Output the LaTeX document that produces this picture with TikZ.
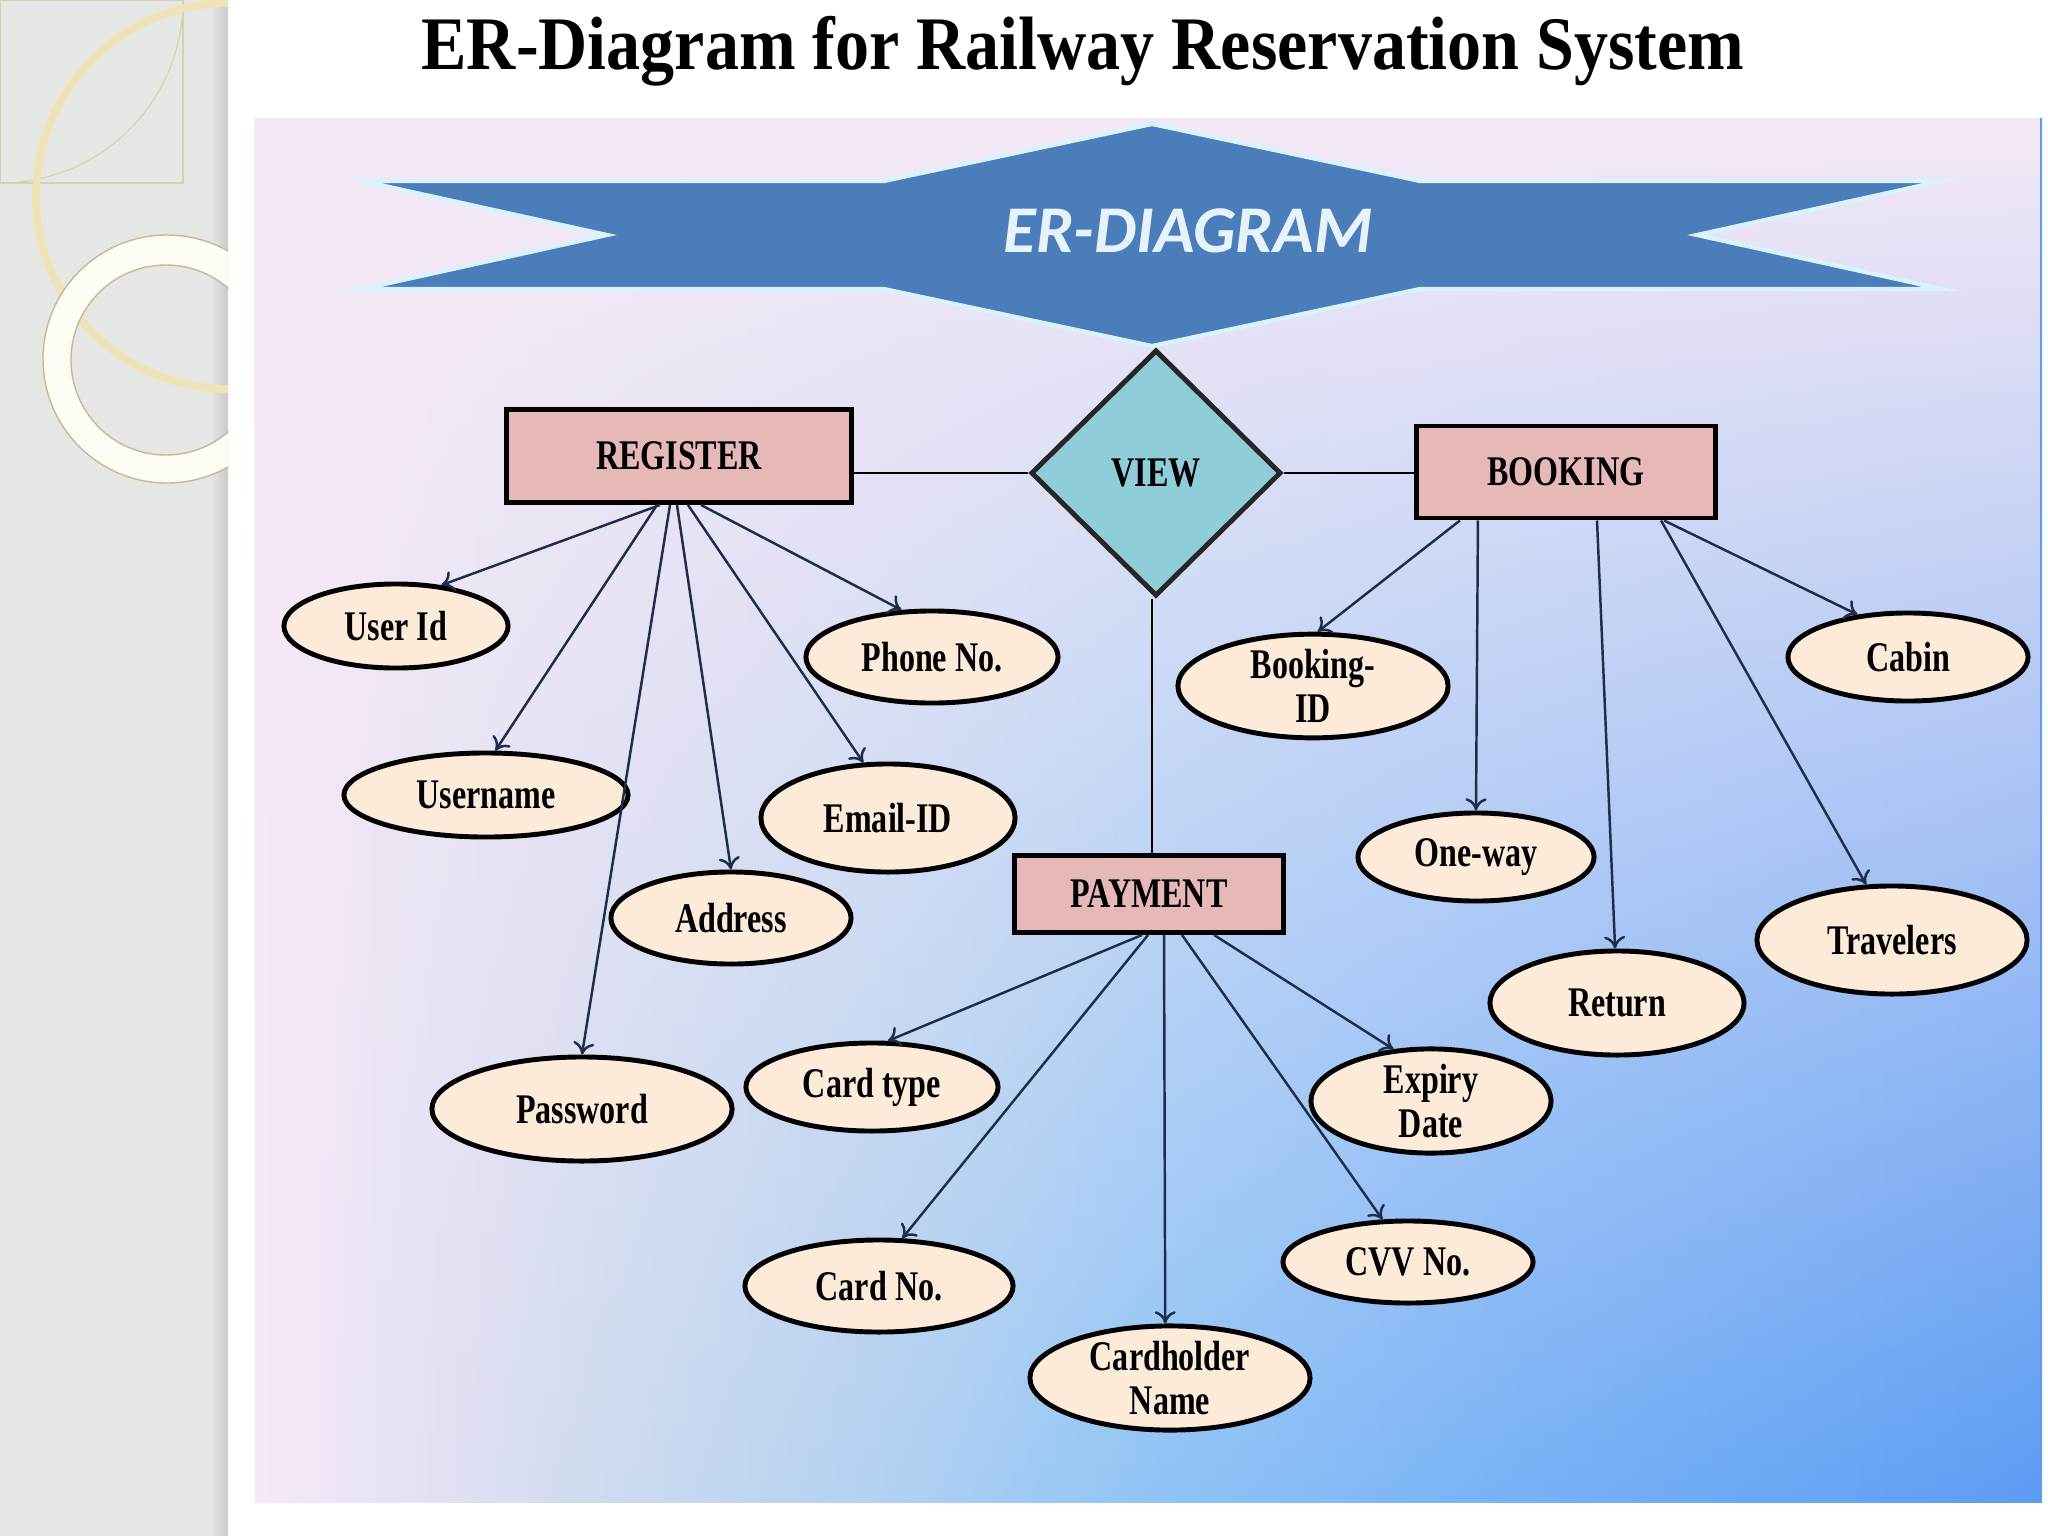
\documentclass[tikz,border=0pt]{standalone}
\usepackage{fontspec}
\setmainfont{Liberation Serif}
\newfontfamily\erfont[FakeStretch=0.76]{Liberation Serif}
\newfontfamily\titlefont[FakeStretch=0.9]{Liberation Serif}
\newfontfamily\bannerfont{Carlito}
\usepackage{xcolor}
\usepackage{tikz}
\usetikzlibrary{fadings}
\usetikzlibrary{shapes.geometric, arrows.meta, positioning}

\definecolor{sidegray}{HTML}{E4E7E4}
\definecolor{ringcream}{HTML}{EEE3B8}
\definecolor{ringwhite}{HTML}{FCFBF4}
\definecolor{ringtan}{HTML}{C8B98E}
\definecolor{panelA}{HTML}{F7E8F8}
\definecolor{panelB}{HTML}{D5DDEF}
\definecolor{panelC}{HTML}{B0D0F1}
\definecolor{panelD}{HTML}{90C4F5}
\definecolor{panelE}{HTML}{78B2F6}
\definecolor{panelF}{HTML}{5C9CF3}
\definecolor{panellav}{HTML}{F5E9F6}
\definecolor{bannerblue}{HTML}{4A7DBA}
\definecolor{bannertext}{HTML}{E6F3FA}
\definecolor{entitypink}{HTML}{E6B9B8}
\definecolor{viewteal}{HTML}{8FCDD9}
\definecolor{attribcream}{HTML}{FCEBD9}
\definecolor{linknavy}{HTML}{1C2E4A}

\pgfdeclarehorizontalshading{panelshade}{100bp}{color(0bp)=(panelA); color(25bp)=(panelA); color(33bp)=(panelB); color(43bp)=(panelC); color(50bp)=(panelD); color(60bp)=(panelE); color(75bp)=(panelF); color(100bp)=(panelF)}
\tikzfading[name=fade top, top color=transparent!0, middle color=transparent!72, bottom color=transparent!100]

\begin{document}
\begin{tikzpicture}[x=0.01cm, y=-0.01cm,
		entity/.style={rectangle, draw=black, line width=1.4pt, fill=entitypink, inner sep=0pt, font=\erfont\bfseries\fontsize{12}{12.5}\selectfont},
		relation/.style={diamond, draw=black!85, line width=1.4pt, fill=viewteal, inner sep=0pt, font=\erfont\bfseries\fontsize{12}{12.5}\selectfont},
		attrib/.style={ellipse, draw=black, line width=1.4pt, fill=attribcream, inner sep=0pt, align=center, font=\erfont\bfseries\fontsize{12}{12.5}\selectfont},
		link/.style={draw=black, line width=0.8pt},
		attrlink/.style={draw=linknavy, line width=0.7pt, -{To[length=3.5pt,width=6pt]}}]
				\useasboundingbox (0,0) rectangle (2048,1536);
				\fill [white] (0,0) rectangle (2048,1536);
				
				% side bar with the rings
				\fill [sidegray] (0,0) rectangle (228,1536);
				\shade [left color=sidegray, right color=sidegray!88!black] (210,0) rectangle (228,1536);
				\begin{scope}
					\clip (0,0) rectangle (228,1536);
					\draw [ringtan!70, line width=0.3pt] (0,0) rectangle (183,183);
					\draw [ringtan!70, line width=0.3pt] (183,0) to [out=-90,in=0] (0,183);
					\draw [ringcream, line width=2.2pt] (229,196) circle (193);
					\filldraw [fill=ringwhite, draw=ringtan, line width=0.4pt, even odd rule] (167,359) circle (124) (166,360) circle (95);
				\end{scope}
				
				% background panel
				\shade [shading=panelshade] (255,118) rectangle (2042,1502);
				\fill [panellav, path fading=fade top] (255,118) rectangle (2042,1502);
				
				\node [font=\titlefont\bfseries\fontsize{21.5}{24}\selectfont] (title) at (1083,51) {ER-Diagram for Railway Reservation System};
				
				% banner
				\filldraw [fill=bannerblue, draw=white!85!cyan, line width=1.2pt] (362,181) -- (884,181) -- (1152,124) -- (1420,181) -- (1942,181) -- (1697,235) -- (1942,289) -- (1420,289) -- (1152,346) -- (884,289) -- (362,289) -- (607,235) -- cycle;
				\node [font=\bannerfont\bfseries\itshape\fontsize{19}{22}\selectfont, text=bannertext] (banner) at (1188,231) {ER-DIAGRAM};
				
				% % % % % % % % % % % % % % % % % % % % % % % % % %
				
				\node [entity, minimum width=3.45cm, minimum height=0.93cm] (reg) at (679,456) {REGISTER};
				\node [relation, minimum width=2.5cm, minimum height=2.46cm] (view) at (1156,473) {VIEW};
				\node [entity, minimum width=2.98cm, minimum height=0.92cm] (book) at (1566,472) {BOOKING};
				\node [entity, minimum width=2.69cm, minimum height=0.77cm] (pay) at (1149,894) {PAYMENT};
				
				\draw [link] (view.west) -- (view.west -| reg.east);
				\draw [link] (view.east) -- (view.east -| book.west);
				\draw [link] ([xshift=-0.04cm]view.south) -- ([xshift=-0.04cm]view.south |- pay.north);
				
				% register attributes
				\node [attrib, minimum width=2.24cm, minimum height=0.84cm] (uid) at (396,626) {User Id};
				\node [attrib, minimum width=2.84cm, minimum height=0.84cm] (uname) at (486,795) {Username};
				\node [attrib, minimum width=2.40cm, minimum height=0.92cm] (addr) at (731,918) {Address};
				\node [attrib, minimum width=3.00cm, minimum height=1.04cm] (pwd) at (582,1109) {Password};
				\node [attrib, minimum width=2.52cm, minimum height=0.92cm] (phone) at (932,657) {Phone No.};
				\node [attrib, minimum width=2.54cm, minimum height=1.08cm] (email) at (888,818) {Email-ID};
				
				\draw [attrlink] ([xshift=-0.19cm]reg.south) -- (uid.42);
				\draw [attrlink] ([xshift=-0.22cm]reg.south) -- (uname.78);
				\draw [attrlink] ([xshift=-0.09cm]reg.south) -- (pwd.north);
				\draw [attrlink] ([xshift=-0.02cm]reg.south) -- (addr.north);
				\draw [attrlink] ([xshift=0.09cm]reg.south) -- (email.114);
				\draw [attrlink] ([xshift=0.22cm]reg.south) -- (phone.123);
				
				% booking attributes
				\node [attrib, minimum width=2.70cm, minimum height=0.84cm] (bid) at (1313,686) {Booking-\\ID};
				\node [attrib, minimum width=2.36cm, minimum height=0.88cm] (oneway) at (1476,857) {One-way};
				\node [attrib, minimum width=2.54cm, minimum height=1.04cm] (ret) at (1617,1003) {Return};
				\node [attrib, minimum width=2.40cm, minimum height=0.88cm] (cabin) at (1908,657) {Cabin};
				\node [attrib, minimum width=2.70cm, minimum height=1.08cm] (trav) at (1892,940) {Travelers};
				
				\draw [attrlink] ([xshift=-1.06cm]book.south) -- (bid.85);
				\draw [attrlink] ([xshift=-0.88cm]book.south) -- (oneway.north);
				\draw [attrlink] ([xshift=0.31cm]book.south) -- (ret.92);
				\draw [attrlink] ([xshift=0.95cm]book.south) -- (trav.115);
				\draw [attrlink] ([xshift=0.98cm]book.south) -- (cabin.140);
				
				% payment attributes
				\node [attrib, minimum width=2.52cm, minimum height=0.88cm] (ctype) at (872,1087) {Card type};
				\node [attrib, minimum width=2.68cm, minimum height=0.92cm] (cno) at (879,1286) {Card No.};
				\node [attrib, minimum width=2.80cm, minimum height=0.86cm] (chname) at (1170,1378) {Cardholder\\Name};
				\node [attrib, minimum width=2.50cm, minimum height=0.82cm] (cvv) at (1408,1262) {CVV No.};
				\node [attrib, minimum width=2.40cm, minimum height=0.96cm] (exp) at (1431,1101) {Expiry\\Date};
				
				\draw [attrlink] ([xshift=-0.07cm]pay.south) -- (ctype.71);
				\draw [attrlink] ([xshift=-0.01cm]pay.south) -- (cno.64);
				\draw [attrlink] ([xshift=0.15cm]pay.south) -- (chname.95);
				\draw [attrlink] ([xshift=0.33cm]pay.south) -- (cvv.121);
				\draw [attrlink] ([xshift=0.65cm]pay.south) -- (exp.126);
\end{tikzpicture}
\end{document}
